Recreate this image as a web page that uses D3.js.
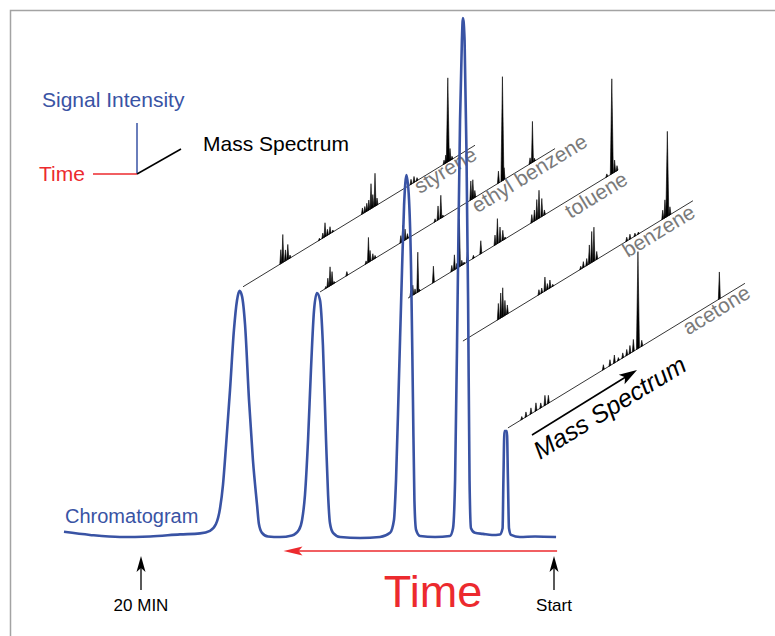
<!DOCTYPE html>
<meta charset="utf-8">
<head>
<title>GC-MS chromatogram</title>
<script src="https://cdn.jsdelivr.net/npm/d3@7"></script>
<style>
  body { margin: 0; background: #fff; }
  svg text { font-family: "Liberation Sans", Arial, sans-serif; }
</style>
</head>
<body>
<div id="chart"></div>
<script>

const width = 775;
const height = 636;

// chromatogram (time in minutes, signal in % of the tallest peak)
const chromTime = [23.73, 22.47, 21.02, 19.56, 18.11, 17.14, 16.66, 16.37, 16.17, 16.03, 15.88, 15.69, 15.50, 15.35, 15.23,
  15.11, 14.96, 14.77, 14.58, 14.38, 14.29, 14.14, 13.85, 13.27, 12.69, 12.35, 12.20, 12.06, 11.91, 11.77, 11.62, 11.48,
  11.33, 11.19, 11.04, 10.94, 10.85, 10.70, 10.36, 9.39, 8.43, 7.94, 7.75, 7.65, 7.51, 7.36, 7.26, 7.14, 7.02, 6.92, 6.83,
  6.76, 6.68, 6.49, 5.76, 5.04, 4.89, 4.79, 4.65, 4.55, 4.46, 4.41, 4.33, 4.24, 4.16, 4.09, 4.02, 3.83, 3.44, 3.00, 2.62,
  2.49, 2.45, 2.40, 2.28, 2.23, 2.18, 2.08, 1.65, 0.92, -0.10];
const chromSignal = [1.0, 0.4, 0, 0.1, 0.5, 0.7, 1.2, 2.5, 5.6, 10.1, 17.8, 28.4, 40.0, 45.8, 47.6,
  46.6, 41.0, 26.5, 14.9, 6.2, 2.5, 0.8, 0.1, 0, 0.3, 1.4, 3.3, 8.1, 18.8, 32.3, 43.9, 47.2,
  45.8, 37.1, 18.8, 8.1, 2.7, 0.8, 0, -0.2, 0, 0.8, 3.3, 11.0, 30.4, 51.6, 64.2, 70.0, 65.2, 51.6, 26.5,
  7.2, 1.4, 0.2, 0, 0.2, 1.7, 11.0, 51.6, 80.7, 96.1, 100.4, 96.1, 74.9, 45.8, 11.0, 1.7, 0.8, 0.6, 0.4, 0.5,
  1.7, 11.0, 20.5, 20.5, 11.0, 1.7, 0.4, 0, 0.1, 0];

// compounds and where their mass spectra leave the chromatogram
const compounds = ["styrene", "ethyl benzene", "toluene", "benzene", "acetone"];
const specTime = [15.06, 11.33, 7.07, 4.41, 2.23];
const specSignal = [48.4, 47.4, 46.2, 37.9, 21.1];
const specRange = [116, 117.5, 105, 115, 118.5];

// spectrum lines: position along the mass axis and relative abundance
const styreneMz = [18.9, 19.9, 21.2, 22.4, 23.5, 38.2, 39.9, 41, 42.2, 43.5, 44.9, 59.7, 60.9, 61.9, 62.9, 64, 64.9, 66, 67,
  84, 85.5, 87, 100.5, 101.4, 102.4, 103.5, 104.5];
const styreneAb = [14, 28, 11, 15, 3, 2, 5, 14, 6, 7, 2, 6, 6, 8, 10, 25, 13, 33, 7, 5, 6, 3, 4, 8, 84, 12, 3];
const ethylMz = [2.9, 3.9, 5, 6, 7, 13.4, 23, 24.2, 25, 26.4, 27.5, 40.4, 41.4, 42.5, 43.7, 45, 57.5, 59, 60.4, 61.4,
  75.4, 76.4, 77.4, 89.2, 91.2, 92, 105, 106.2, 107.2];
const ethylAb = [2, 9, 19, 13, 2, 4, 3, 25, 11, 6, 3, 7, 16, 11, 5, 3, 3, 14, 23, 2, 19, 19, 7, 12, 104, 12, 6, 41, 3];
const tolueneMz = [1.4, 2.4, 3.5, 4.9, 5.7, 12.7, 21.9, 23.2, 24.4, 25.7, 26.9, 28, 29.7, 32.7, 36.4, 43.5, 44.7, 46, 47.4, 48.5,
  61.9, 63.2, 64.4, 65.5, 66.9, 68.2, 99.4, 101.9, 103.3, 104.5];
const tolueneAb = [6, 10, 5, 40, 2, 16.5, 6, 15, 5, 48, 5, 2, 10, 3, 13, 10, 25, 15, 10, 2, 8, 11, 20, 28, 18, 5, 3, 95, 12, 5];
const benzeneMz = [17.7, 18.9, 19.9, 21, 22.2, 38, 39.4, 41, 42.2, 43.5, 44.9, 58.9, 60.2, 61.9, 63.2, 64.4, 65.5, 66.9,
  81.9, 83.5, 86, 87.7, 99.9, 101, 102.2, 103.5];
const benzeneAb = [16, 25, 29, 15, 9, 5, 5, 14, 6, 8, 2, 3, 6, 7, 19, 31, 34, 8, 4, 5, 3, 2, 9, 18, 85, 8];
const acetoneMz = [6.9, 9, 11.5, 14, 16.4, 18.5, 20.2, 47.7, 51, 53.2, 55.2, 57.4, 59.4, 61, 62.7, 65, 66.9, 105.7];
const acetoneAb = [3, 5, 6, 8, 5, 10, 8, 5, 6, 8, 3, 5, 6, 8, 12, 97, 6, 27];

const specMz = [styreneMz, ethylMz, tolueneMz, benzeneMz, acetoneMz];
const specAb = [styreneAb, ethylAb, tolueneAb, benzeneAb, acetoneAb];

// label placement along / below each spectrum line
const labelAlong = [199, 175, 180, 184, 202];
const labelDrop = [13, 15, 17, 15, 15];

const blue = "#3953a4";
const red = "#ec2a2e";
const grey = "#7a7a7a";

const x = d3.scaleLinear().domain([0, 20]).range([554, 141]);
const y = d3.scaleLinear().domain([0, 100]).range([537, 20]);
const mz = d3.scaleLinear().domain([0, 120]).range([0, 240]);
const ab = d3.scaleLinear().domain([0, 100]).range([0, 100]);
const skew = 0.61;
const ang = Math.atan(skew);
const angDeg = ang * 180 / Math.PI;

const svg = d3.select("#chart")
  .append("svg")
  .attr("width", width)
  .attr("height", height)
  .attr("viewBox", [0, 0, width, height]);

// frame
svg.append("path")
  .attr("d", `M10.5,${height} V10.5 H${width}`)
  .attr("fill", "none")
  .attr("stroke", "#a3a3a3")
  .attr("stroke-width", 1.5);

// mass spectra
const spec = svg.append("g");
compounds.forEach((name, i) => {
  const ox = x(specTime[i]), oy = y(specSignal[i]);
  const pt = (m, h) => {
    const dx = mz(m);
    return [ox + dx, oy - skew * dx - ab(h)];
  };
  const end = pt(specRange[i], 0);
  spec.append("line")
    .attr("x1", ox).attr("y1", oy)
    .attr("x2", end[0]).attr("y2", end[1])
    .attr("stroke", "#000")
    .attr("stroke-width", 0.8);

  const peaks = specMz[i].map((m, k) => [m, specAb[i][k]]);
  spec.append("g")
    .selectAll("path")
    .data(peaks)
    .join("path")
      .attr("d", d => {
        const w = d[1] > 60 ? 0.75 : 0.5;
        const b0 = pt(d[0] - w, 0), b1 = pt(d[0] + w, 0), t = pt(d[0], d[1]);
        return `M${b0}L${t}L${b1}Z`;
      })
      .attr("fill", "#000")
      .attr("stroke", "#000")
      .attr("stroke-width", 0.6)
      .attr("stroke-linejoin", "round");

  const ux = Math.cos(ang), uy = -Math.sin(ang);
  const vx = Math.sin(ang), vy = Math.cos(ang);
  const lx = ox + labelAlong[i] * ux + labelDrop[i] * vx;
  const ly = oy + labelAlong[i] * uy + labelDrop[i] * vy;
  svg.append("text")
    .attr("transform", `translate(${lx},${ly}) rotate(${-angDeg})`)
    .attr("fill", grey)
    .style("font-size", "21px")
    .text(name);
});

// chromatogram
const chrom = chromTime.map((t, k) => [t, chromSignal[k]]);
svg.append("path")
  .datum(chrom)
  .attr("d", d3.line().x(d => x(d[0])).y(d => y(d[1])).curve(d3.curveMonotoneX))
  .attr("fill", "none")
  .attr("stroke", blue)
  .attr("stroke-width", 2.6)
  .attr("stroke-linejoin", "round");

svg.append("text")
  .attr("x", 65).attr("y", 523)
  .attr("fill", blue)
  .style("font-size", "20px")
  .text("Chromatogram");

// time arrow
const arrowY = 551;
svg.append("line")
  .attr("x1", x(-0.15)).attr("x2", x(12.5))
  .attr("y1", arrowY).attr("y2", arrowY)
  .attr("stroke", red).attr("stroke-width", 1.6);
const tipX = x(13.1);
svg.append("path")
  .attr("d", `M${tipX},${arrowY}L${tipX + 19},${arrowY - 4.5}L${tipX + 15},${arrowY}L${tipX + 19},${arrowY + 4.5}Z`)
  .attr("fill", red);

svg.append("text")
  .attr("x", 433).attr("y", 607)
  .attr("text-anchor", "middle")
  .attr("fill", red)
  .style("font-size", "45px")
  .text("Time");

// 20 MIN / Start markers
[[20, "20 MIN"], [0, "Start"]].forEach(([t, txt]) => {
  const px = x(t);
  svg.append("line")
    .attr("x1", px).attr("x2", px)
    .attr("y1", 590).attr("y2", 568)
    .attr("stroke", "#000").attr("stroke-width", 1.3);
  svg.append("path")
    .attr("d", `M${px},556L${px - 4.5},572L${px},568L${px + 4.5},572Z`)
    .attr("fill", "#000");
  svg.append("text")
    .attr("x", px).attr("y", 611)
    .attr("text-anchor", "middle")
    .attr("fill", "#000")
    .style("font-size", "17px")
    .text(txt);
});

// mass spectrum arrow
const a0 = [532, 435], a1 = [637, 370];
const alen = Math.hypot(a1[0] - a0[0], a1[1] - a0[1]);
const au = [(a1[0] - a0[0]) / alen, (a1[1] - a0[1]) / alen];
const an = [-au[1], au[0]];
svg.append("line")
  .attr("x1", a0[0]).attr("y1", a0[1])
  .attr("x2", a1[0] - au[0] * 10).attr("y2", a1[1] - au[1] * 10)
  .attr("stroke", "#000").attr("stroke-width", 1.6);
svg.append("path")
  .attr("d", `M${a1}L${a1[0] - au[0] * 18 + an[0] * 5.5},${a1[1] - au[1] * 18 + an[1] * 5.5}`
    + `L${a1[0] - au[0] * 14},${a1[1] - au[1] * 14}`
    + `L${a1[0] - au[0] * 18 - an[0] * 5.5},${a1[1] - au[1] * 18 - an[1] * 5.5}Z`)
  .attr("fill", "#000");
svg.append("text")
  .attr("transform", `translate(540,460) rotate(${-angDeg})`)
  .attr("fill", "#000")
  .style("font-size", "25px")
  .style("font-style", "italic")
  .text("Mass Spectrum");

// axis key, top left
const key = svg.append("g");
key.append("line").attr("x1", 137).attr("x2", 137).attr("y1", 123).attr("y2", 174)
  .attr("stroke", blue).attr("stroke-width", 1.5);
key.append("line").attr("x1", 93).attr("x2", 137).attr("y1", 174).attr("y2", 174)
  .attr("stroke", red).attr("stroke-width", 1.5);
key.append("line").attr("x1", 137).attr("x2", 181).attr("y1", 174).attr("y2", 149)
  .attr("stroke", "#000").attr("stroke-width", 1.5);
key.append("text").attr("x", 42).attr("y", 107).attr("fill", blue)
  .style("font-size", "21px").text("Signal Intensity");
key.append("text").attr("x", 39).attr("y", 181).attr("fill", red)
  .style("font-size", "21px").text("Time");
key.append("text").attr("x", 203).attr("y", 151).attr("fill", "#000")
  .style("font-size", "21px").text("Mass Spectrum");

</script>
</body>
